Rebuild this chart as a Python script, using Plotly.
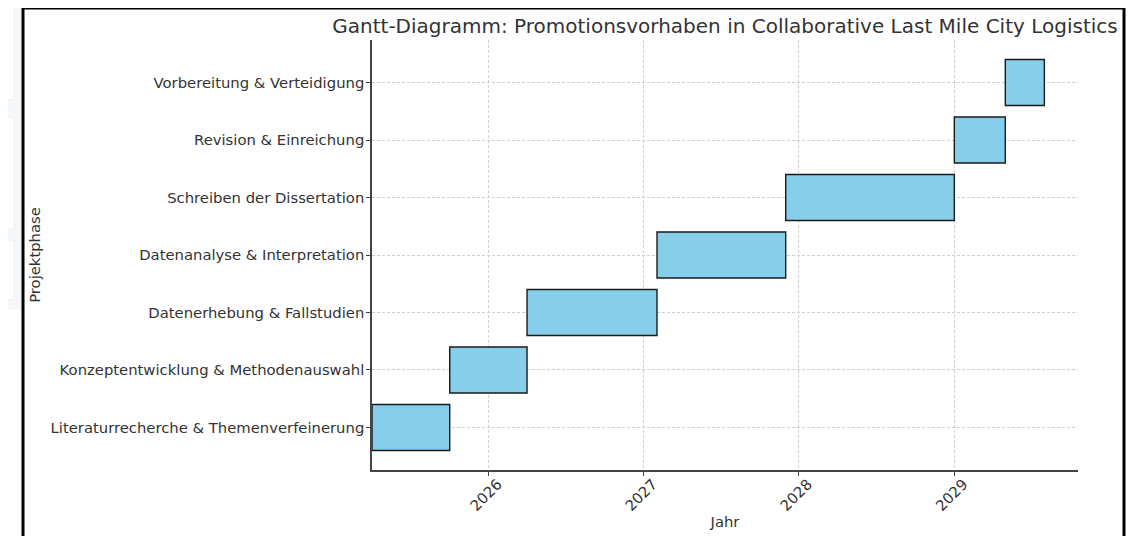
import pandas as pd
import plotly.graph_objects as go

phases = [
    "Literaturrecherche & Themenverfeinerung",
    "Konzeptentwicklung & Methodenauswahl",
    "Datenerhebung & Fallstudien",
    "Datenanalyse & Interpretation",
    "Schreiben der Dissertation",
    "Revision & Einreichung",
    "Vorbereitung & Verteidigung",
]
starts = ["2025-04-01", "2025-10-01", "2026-04-01", "2027-02-01", "2027-12-01", "2029-01-01", "2029-05-01"]
ends = ["2025-10-01", "2026-04-01", "2027-02-01", "2027-12-01", "2029-01-01", "2029-05-01", "2029-08-01"]
tick_dates = ["2026-01-01", "2027-01-01", "2028-01-01", "2029-01-01"]
tick_labels = ["2026", "2027", "2028", "2029"]

s = pd.to_datetime(pd.Series(starts))
e = pd.to_datetime(pd.Series(ends))
dur_ms = ((e - s).dt.total_seconds() * 1000).tolist()

# page body has an 8px margin; work in screenshot pixels and offset
OFF = 8
W, H = 1135 - OFF, 536 - OFF
AX_L, AX_R, AX_T, AX_B = 372, 1078, 40, 470
L, T = AX_L - OFF, AX_T - OFF
R, B = W - (AX_R - OFF), H - (AX_B - OFF)
pw, ph = AX_R - AX_L, AX_B - AX_T

def px_x(x):
    return (x - AX_L) / pw

def px_y(y):
    return 1 - (y - AX_T) / ph

FONT = "DejaVu Sans"
TXT = "#333333"
FS = 14.8

fig = go.Figure()
fig.add_trace(go.Bar(
    y=phases,
    x=dur_ms,
    base=starts,
    orientation="h",
    width=0.8,
    marker=dict(color="#87CEEB", line=dict(color="#1a1a1a", width=1.4)),
    hoverinfo="skip",
    showlegend=False,
))

span = e.max() - s.min()
x_end = e.max() + span * 0.05

shapes = [
    # left UI background panel
    dict(type="rect", xref="paper", yref="paper", x0=px_x(-20), x1=px_x(23), y0=px_y(310), y1=px_y(-20),
         fillcolor="#f5f8fb", line=dict(width=0), layer="below"),
    dict(type="rect", xref="paper", yref="paper", x0=px_x(-20), x1=px_x(14), y0=px_y(100), y1=px_y(-20),
         fillcolor="#ffffff", line=dict(color="#e8ecf0", width=1), layer="below"),
    dict(type="rect", xref="paper", yref="paper", x0=px_x(-20), x1=px_x(14), y0=px_y(229), y1=px_y(117),
         fillcolor="#ffffff", line=dict(color="#e8ecf0", width=1), layer="below"),
    dict(type="rect", xref="paper", yref="paper", x0=px_x(-20), x1=px_x(14), y0=px_y(300), y1=px_y(240),
         fillcolor="#ffffff", line=dict(color="#e8ecf0", width=1), layer="below"),
    dict(type="rect", xref="paper", yref="paper", x0=px_x(22), x1=px_x(50), y0=px_y(8), y1=px_y(-20),
         fillcolor="#f5f8fb", line=dict(width=0), layer="below"),
    # black frame
    dict(type="rect", xref="paper", yref="paper", x0=px_x(23), x1=px_x(1124), y0=px_y(560), y1=px_y(8),
         line=dict(color="#000000", width=3), fillcolor="rgba(0,0,0,0)"),
]

fig.update_layout(
    width=W, height=H,
    margin=dict(l=L, r=R, t=T, b=B, pad=0, autoexpand=False),
    paper_bgcolor="white", plot_bgcolor="white",
    font=dict(family=FONT, size=FS, color=TXT),
    title=dict(
        text="Gantt-Diagramm: Promotionsvorhaben in Collaborative Last Mile City Logistics",
        x=0.5, xanchor="center", xref="paper",
        y=1 - (26 - OFF) / H, yanchor="middle", yref="container",
        font=dict(family=FONT, size=20, color=TXT),
    ),
    bargap=0.2,
    shapes=shapes,
    xaxis=dict(
        type="date",
        automargin=False,
        range=[s.min(), x_end],
        tickvals=tick_dates, ticktext=tick_labels,
        tickangle=-45,
        ticklabelshift=9,
        ticklabelstandoff=-6,
        ticks="outside", ticklen=4, tickcolor="#444444", tickwidth=1,
        showline=True, linecolor="#444444", linewidth=1.5,
        showgrid=True, gridcolor="#cfcfcf", gridwidth=0.8, griddash="3px,2px",
        zeroline=False,
        tickfont=dict(family=FONT, size=FS, color=TXT),
        title=dict(text="Jahr", font=dict(family=FONT, size=FS, color=TXT), standoff=4),
    ),
    yaxis=dict(
        type="category",
        automargin=False,
        categoryorder="array", categoryarray=phases,
        range=[-0.74, 6.74],
        ticks="outside", ticklen=4, tickcolor="#444444", tickwidth=1,
        showline=True, linecolor="#444444", linewidth=1.5,
        showgrid=True, gridcolor="#cfcfcf", gridwidth=0.8, griddash="3px,2px",
        zeroline=False,
        tickfont=dict(family=FONT, size=FS, color=TXT),
        ticklabelstandoff=-1,
        title=dict(text="Projektphase", font=dict(family=FONT, size=FS, color=TXT), standoff=6),
    ),
)

fig.write_html("out.html")
